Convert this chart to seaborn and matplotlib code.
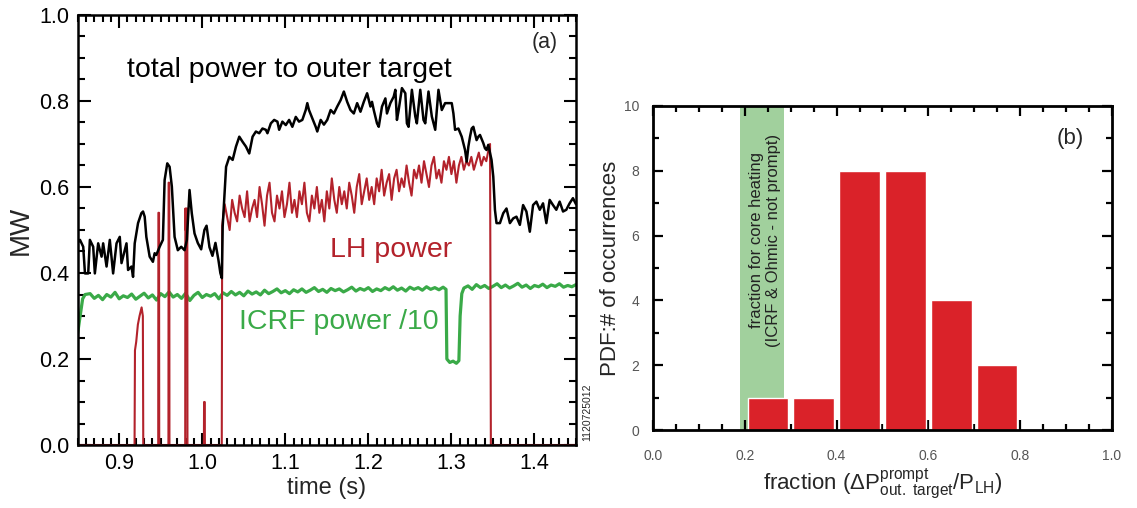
import matplotlib
matplotlib.use("Agg")
import matplotlib.pyplot as plt
import seaborn as sns
from matplotlib.ticker import MultipleLocator

# ---- panel (a): power traces (time in s, power in MW) ----
TOTAL_T = [0.850, 0.8528, 0.8567, 0.8588, 0.8627, 0.8647, 0.8687, 0.8707, 0.8747, 0.8788,
           0.8807, 0.8848, 0.8887, 0.8927, 0.8968, 0.9007, 0.9028, 0.9088, 0.9107, 0.9148,
           0.9167, 0.9187, 0.9227, 0.9267, 0.9287, 0.9307, 0.9327, 0.9367, 0.9406, 0.9427,
           0.9447, 0.9487, 0.9526, 0.9547, 0.9579, 0.9607, 0.9634, 0.9667, 0.9706, 0.9747,
           0.9787, 0.9815, 0.9847, 0.9874, 0.9907, 0.9946, 0.9987, 1.0026, 1.0052, 1.0087,
           1.0123, 1.0159, 1.0195, 1.0218, 1.0236, 1.0246, 1.0266, 1.0287, 1.0326, 1.0366,
           1.0406, 1.0446, 1.0486, 1.0526, 1.0566, 1.0606, 1.0646, 1.0686, 1.0725, 1.0766,
           1.0785, 1.0826, 1.0866, 1.0905, 1.0926, 1.0965, 1.1006, 1.1046, 1.1085, 1.1126,
           1.1165, 1.1205, 1.1246, 1.1265, 1.1285, 1.1325, 1.1366, 1.1385, 1.1426, 1.1465,
           1.1505, 1.1546, 1.1585, 1.1625, 1.1666, 1.1705, 1.1745, 1.1785, 1.1825, 1.1865,
           1.1905, 1.1945, 1.1985, 1.2025, 1.2044, 1.2065, 1.2104, 1.2125, 1.2164, 1.2205,
           1.2224, 1.2265, 1.2305, 1.2325, 1.2344, 1.2365, 1.2404, 1.2445, 1.2464, 1.2484,
           1.2524, 1.2565, 1.2584, 1.2625, 1.2664, 1.2685, 1.2724, 1.2764, 1.2805, 1.2844,
           1.2884, 1.2924, 1.2964, 1.3004, 1.3024, 1.3044, 1.3084, 1.3124, 1.3164, 1.3184,
           1.3204, 1.3224, 1.3244, 1.3264, 1.3303, 1.3324, 1.3344, 1.3384, 1.3404, 1.3423,
           1.3444, 1.3483, 1.3504, 1.3524, 1.3543, 1.3584, 1.3624, 1.3663, 1.3704, 1.3744,
           1.3783, 1.3824, 1.3863, 1.3903, 1.3944, 1.3983, 1.4023, 1.4064, 1.4103, 1.4143,
           1.4183, 1.4223, 1.4263, 1.4303, 1.4344, 1.4383, 1.4423, 1.4463, 1.4500]
TOTAL_MW = [0.470, 0.477, 0.461, 0.399, 0.399, 0.477, 0.461, 0.399, 0.469, 0.438,
            0.469, 0.415, 0.477, 0.399, 0.469, 0.484, 0.423, 0.469, 0.407, 0.415,
            0.391, 0.469, 0.516, 0.539, 0.543, 0.531, 0.484, 0.438, 0.426, 0.446,
            0.442, 0.461, 0.477, 0.616, 0.655, 0.647, 0.601, 0.484, 0.453, 0.461,
            0.453, 0.477, 0.593, 0.539, 0.492, 0.470, 0.455, 0.500, 0.510, 0.460,
            0.440, 0.470, 0.430, 0.400, 0.388, 0.508, 0.578, 0.647, 0.670, 0.663,
            0.694, 0.717, 0.705, 0.694, 0.678, 0.717, 0.729, 0.725, 0.736, 0.733,
            0.725, 0.748, 0.756, 0.752, 0.733, 0.752, 0.744, 0.756, 0.740, 0.763,
            0.752, 0.756, 0.779, 0.795, 0.779, 0.760, 0.740, 0.729, 0.756, 0.745,
            0.756, 0.779, 0.771, 0.787, 0.802, 0.822, 0.798, 0.779, 0.771, 0.795,
            0.775, 0.798, 0.818, 0.787, 0.798, 0.779, 0.748, 0.740, 0.787, 0.806,
            0.771, 0.795, 0.810, 0.826, 0.756, 0.779, 0.830, 0.818, 0.748, 0.740,
            0.826, 0.764, 0.748, 0.826, 0.756, 0.748, 0.822, 0.764, 0.733, 0.826,
            0.779, 0.795, 0.795, 0.795, 0.771, 0.733, 0.736, 0.717, 0.686, 0.659,
            0.694, 0.717, 0.736, 0.740, 0.709, 0.717, 0.721, 0.702, 0.690, 0.686,
            0.698, 0.663, 0.624, 0.547, 0.516, 0.516, 0.539, 0.550, 0.516, 0.527,
            0.531, 0.512, 0.558, 0.543, 0.496, 0.558, 0.566, 0.547, 0.562, 0.516,
            0.570, 0.558, 0.547, 0.566, 0.543, 0.547, 0.562, 0.574, 0.560]

LH_T = [0.8500, 0.9185, 0.9190, 0.9205, 0.9225, 0.9245, 0.9270, 0.9285, 0.9290,
        0.9470, 0.9472, 0.9480, 0.9482, 0.9593, 0.9595, 0.9603, 0.9605,
        0.9795, 0.9797, 0.9800, 0.9810, 0.9820, 0.9822, 1.0020, 1.0022, 1.0030, 1.0032,
        1.0235,
        1.024, 1.027, 1.030, 1.033, 1.036, 1.039, 1.042, 1.045, 1.048, 1.051,
        1.054, 1.057, 1.060, 1.063, 1.066, 1.069, 1.072, 1.075, 1.078, 1.081,
        1.084, 1.087, 1.090, 1.093, 1.096, 1.099, 1.102, 1.105, 1.108, 1.111,
        1.114, 1.117, 1.120, 1.123, 1.126, 1.129, 1.132, 1.135, 1.138, 1.141,
        1.144, 1.147, 1.150, 1.153, 1.156, 1.159, 1.162, 1.165, 1.168, 1.171,
        1.174, 1.177, 1.180, 1.183, 1.186, 1.189, 1.192, 1.195, 1.198, 1.201,
        1.204, 1.207, 1.210, 1.213, 1.216, 1.219, 1.222, 1.225, 1.228, 1.231,
        1.234, 1.237, 1.240, 1.243, 1.246, 1.249, 1.252, 1.255, 1.258, 1.261,
        1.264, 1.267, 1.270, 1.273, 1.276, 1.279, 1.282, 1.285, 1.288, 1.291,
        1.294, 1.297, 1.300, 1.303, 1.306, 1.309, 1.312, 1.315, 1.318, 1.321,
        1.324, 1.327, 1.330, 1.333, 1.336, 1.339, 1.342, 1.345,
        1.3465, 1.3475, 1.4500]
LH_MW = [0.0, 0.0, 0.22, 0.24, 0.28, 0.30, 0.32, 0.30, 0.0,
         0.0, 0.54, 0.54, 0.0, 0.0, 0.61, 0.61, 0.0,
         0.0, 0.55, 0.50, 0.55, 0.55, 0.0, 0.0, 0.10, 0.10, 0.0,
         0.0,
         0.51, 0.56, 0.53, 0.50, 0.57, 0.54, 0.52, 0.58, 0.55, 0.53,
         0.59, 0.52, 0.55, 0.57, 0.53, 0.60, 0.56, 0.51, 0.58, 0.61,
         0.54, 0.52, 0.58, 0.55, 0.59, 0.53, 0.56, 0.61, 0.54, 0.57,
         0.53, 0.59, 0.56, 0.61, 0.54, 0.52, 0.58, 0.55, 0.60, 0.54,
         0.57, 0.52, 0.59, 0.55, 0.62, 0.57, 0.54, 0.60, 0.56, 0.59,
         0.55, 0.61, 0.58, 0.54, 0.60, 0.63, 0.56, 0.59, 0.62, 0.57,
         0.60, 0.56, 0.62, 0.59, 0.64, 0.58, 0.61, 0.63, 0.57, 0.62,
         0.64, 0.59, 0.62, 0.60, 0.65, 0.61, 0.58, 0.64, 0.62, 0.65,
         0.61, 0.66, 0.63, 0.60, 0.65, 0.67, 0.62, 0.64, 0.61, 0.66,
         0.64, 0.67, 0.63, 0.66, 0.61, 0.65, 0.67, 0.64, 0.66, 0.65,
         0.67, 0.64, 0.66, 0.68, 0.65, 0.67, 0.66, 0.69,
         0.70, 0.0, 0.0]

ICRF_T = [0.850, 0.853, 0.856, 0.859,
          0.865, 0.870, 0.875, 0.880, 0.885, 0.890, 0.895, 0.900, 0.905, 0.910,
          0.915, 0.920, 0.925, 0.930, 0.935, 0.940, 0.945, 0.950, 0.955, 0.960,
          0.965, 0.970, 0.975, 0.980, 0.985, 0.990, 0.995, 1.000, 1.005, 1.010,
          1.015, 1.020, 1.025, 1.030, 1.035, 1.040, 1.045, 1.050, 1.055, 1.060,
          1.065, 1.070, 1.075, 1.080, 1.085, 1.090, 1.095, 1.100, 1.105, 1.110,
          1.115, 1.120, 1.125, 1.130, 1.135, 1.140, 1.145, 1.150, 1.155, 1.160,
          1.165, 1.170, 1.175, 1.180, 1.185, 1.190, 1.195, 1.200, 1.205, 1.210,
          1.215, 1.220, 1.225, 1.230, 1.235, 1.240, 1.245, 1.250, 1.255, 1.260,
          1.265, 1.270, 1.275, 1.280, 1.285, 1.290,
          1.2935, 1.2945, 1.298, 1.302, 1.306, 1.309, 1.3105, 1.3125, 1.315,
          1.320, 1.325, 1.330, 1.335, 1.340, 1.345, 1.350, 1.355, 1.360, 1.365,
          1.370, 1.375, 1.380, 1.385, 1.390, 1.395, 1.400, 1.405, 1.410, 1.415,
          1.420, 1.425, 1.430, 1.435, 1.440, 1.445, 1.450]
ICRF_MW = [0.260, 0.300, 0.340, 0.350,
           0.352, 0.341, 0.348, 0.338, 0.350, 0.344, 0.355, 0.340, 0.347, 0.343,
           0.351, 0.339, 0.346, 0.353, 0.342, 0.349, 0.337, 0.352, 0.345, 0.356,
           0.344, 0.350, 0.341, 0.353, 0.336, 0.348, 0.355, 0.343, 0.350, 0.346,
           0.352, 0.340, 0.354, 0.348, 0.357, 0.349, 0.355, 0.347, 0.358, 0.351,
           0.356, 0.349, 0.360, 0.352, 0.357, 0.363, 0.354, 0.359, 0.352, 0.361,
           0.356, 0.363, 0.355, 0.360, 0.366, 0.357, 0.362, 0.355, 0.364, 0.359,
           0.363, 0.356, 0.361, 0.367, 0.358, 0.364, 0.360, 0.366, 0.357, 0.363,
           0.359, 0.366, 0.361, 0.368, 0.360, 0.365, 0.358, 0.367, 0.362, 0.366,
           0.360, 0.368, 0.362, 0.366, 0.361, 0.367,
           0.362, 0.200, 0.192, 0.195, 0.190, 0.196, 0.300, 0.352, 0.365,
           0.370, 0.362, 0.373, 0.366, 0.371, 0.364, 0.369, 0.375, 0.366, 0.372,
           0.365, 0.370, 0.376, 0.367, 0.372, 0.364, 0.371, 0.368, 0.374, 0.366,
           0.372, 0.369, 0.375, 0.367, 0.371, 0.368, 0.373]

# ---- panel (b): histogram of the prompt fraction ----
FRACTION_CENTERS = [0.25, 0.35, 0.45, 0.55, 0.65, 0.75]
OCCURRENCES = [1, 1, 8, 8, 4, 2]
BIN_EDGES = [0.2, 0.3, 0.4, 0.5, 0.6, 0.7, 0.8]
CORE_BAND = [0.19, 0.285]

BLACK = "#000000"
LH_RED = "#b3222b"
ICRF_GREEN = "#3aaa48"
BAR_RED = "#da2229"
BAND_GREEN = "#a1d09d"
TICK_GREY = "#555555"

sns.set_theme(style="ticks")
plt.rcParams["font.family"] = ["Liberation Sans", "DejaVu Sans"]
plt.rcParams["mathtext.fontset"] = "custom"
plt.rcParams["mathtext.rm"] = "Liberation Sans"
plt.rcParams["mathtext.it"] = "Liberation Sans:italic"
plt.rcParams["mathtext.bf"] = "Liberation Sans:bold"

fig = plt.figure(figsize=(11.37, 5.08), dpi=100)
ax1 = fig.add_axes([0.0683, 0.124, 0.4383, 0.8465])
ax2 = fig.add_axes([0.5743, 0.1535, 0.4037, 0.638])

# ---------------- panel (a) ----------------
sns.lineplot(x=ICRF_T, y=ICRF_MW, ax=ax1, color=ICRF_GREEN, lw=2.3,
             sort=False, estimator=None)
sns.lineplot(x=LH_T, y=LH_MW, ax=ax1, color=LH_RED, lw=1.5,
             sort=False, estimator=None)
sns.lineplot(x=TOTAL_T, y=TOTAL_MW, ax=ax1, color=BLACK, lw=1.8,
             sort=False, estimator=None)

ax1.set_xlim(0.85, 1.45)
ax1.set_ylim(0.0, 1.0)
ax1.xaxis.set_major_locator(MultipleLocator(0.1))
ax1.xaxis.set_minor_locator(MultipleLocator(0.01))
ax1.yaxis.set_major_locator(MultipleLocator(0.2))
ax1.yaxis.set_minor_locator(MultipleLocator(0.05))
ax1.tick_params(which="both", direction="in", top=True, right=True,
                width=1.5, colors="black", labelsize=15.5)
ax1.tick_params(which="major", length=9, pad=6)
ax1.tick_params(which="minor", length=5)
for s in ax1.spines.values():
    s.set_linewidth(1.8)
    s.set_color("black")
ax1.set_xlabel("time (s)", fontsize=17, labelpad=2)
ax1.set_ylabel("MW", fontsize=20, labelpad=4)

ax1.text(1.1046, 0.872, "total power to outer target", fontsize=20.5,
         ha="center", va="center", color=BLACK)
ax1.text(1.227, 0.453, "LH power", fontsize=20.5, ha="center", va="center",
         color=LH_RED)
ax1.text(1.1645, 0.286, "ICRF power /10", fontsize=20.5, ha="center",
         va="center", color=ICRF_GREEN)
ax1.text(1.4127, 0.937, "(a)", fontsize=15.5, ha="center", va="center")
ax1.text(1.012, 0.01, "1120725012", transform=ax1.transAxes, rotation=90,
         fontsize=7.5, ha="left", va="bottom")

# ---------------- panel (b) ----------------
ax2.axvspan(CORE_BAND[0], CORE_BAND[1], color=BAND_GREEN, lw=0, zorder=0)
sns.histplot(x=FRACTION_CENTERS, weights=OCCURRENCES, bins=BIN_EDGES,
             shrink=0.88, color=BAR_RED, alpha=1.0, edgecolor="white",
             linewidth=1.0, ax=ax2, zorder=2)
ax2.text(0.2435, 5.85,
         "fraction for core heating\n(ICRF & Ohmic - not prompt)",
         rotation=90, fontsize=12, ha="center", va="center",
         multialignment="center", color="#222222", zorder=3)

ax2.set_xlim(0.0, 1.0)
ax2.set_ylim(0, 10)
ax2.xaxis.set_major_locator(MultipleLocator(0.2))
ax2.xaxis.set_minor_locator(MultipleLocator(0.05))
ax2.yaxis.set_major_locator(MultipleLocator(2))
ax2.yaxis.set_minor_locator(MultipleLocator(1))
ax2.xaxis.set_major_formatter(plt.FormatStrFormatter("%.1f"))
ax2.tick_params(which="both", direction="in", top=True, right=True,
                width=1.6, colors="black", labelcolor=TICK_GREY, labelsize=10)
ax2.tick_params(which="major", length=7)
ax2.tick_params(axis="x", which="major", pad=14)
ax2.tick_params(axis="y", which="major", pad=10)
ax2.tick_params(which="minor", length=4)
for s in ax2.spines.values():
    s.set_linewidth(2.0)
    s.set_color("black")
ax2.set_ylabel("PDF:# of occurrences", fontsize=16, labelpad=2)
ax2.set_xlabel(r"fraction ($\mathrm{\Delta P^{prompt}_{out.\ target}/P_{LH}}$)",
               fontsize=16, labelpad=2)
ax2.text(0.908, 0.898, "(b)", transform=ax2.transAxes, fontsize=16,
         ha="center", va="center")

fig.savefig("out.png", dpi=100)
